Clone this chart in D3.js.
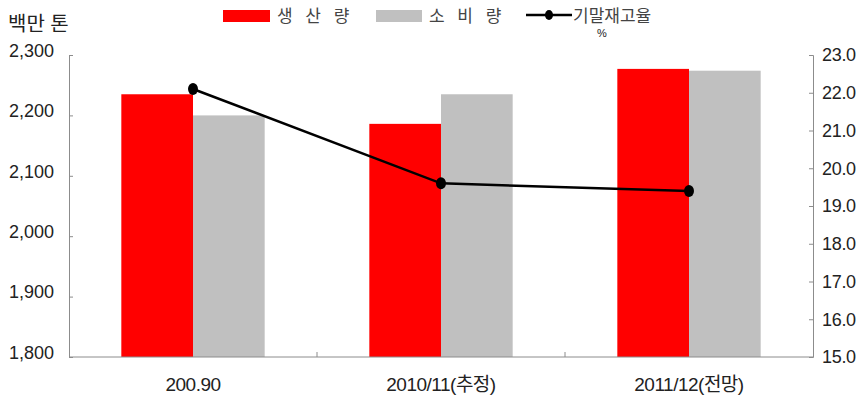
<!DOCTYPE html>
<html>
<head>
<meta charset="utf-8">
<script src="https://cdn.jsdelivr.net/npm/d3@7"></script>
<style>
  body { margin: 0; background: #fff; }
  svg { font-family: "Liberation Sans", Arial, "Noto Sans CJK KR", sans-serif; }
  .axis text { fill: #222; }
</style>
</head>
<body>
<svg id="chart" width="862" height="410"></svg>
<script>
// values
const categories = ["200.90", "2010/11(추정)", "2011/12(전망)"];
const production = [2235, 2186, 2277];
const consumption = [2200, 2235, 2274];
const stockRatio = [22.1, 19.6, 19.4];
const leftTicks = [1800, 1900, 2000, 2100, 2200, 2300];
const rightTicks = [15, 16, 17, 18, 19, 20, 21, 22, 23];

const svg = d3.select("#chart");
const margin = { top: 55, right: 49, bottom: 53, left: 69 };
const width = 862;
const height = 410;

const x = d3.scaleBand()
  .domain(categories)
  .range([margin.left, width - margin.right]);

const inner = d3.scaleBand()
  .domain(["prod", "cons"])
  .range([0, x.bandwidth()])
  .paddingInner(0)
  .paddingOuter(0.73);

const yLeft = d3.scaleLinear()
  .domain([1800, 2300])
  .range([height - margin.bottom, margin.top]);

const yRight = d3.scaleLinear()
  .domain([15, 23])
  .range([height - margin.bottom, margin.top]);

// bars
const groups = svg.append("g")
  .selectAll("g")
  .data(categories)
  .join("g")
  .attr("transform", (d) => `translate(${x(d)},0)`);

groups.append("rect")
  .attr("x", inner("prod"))
  .attr("y", (d, i) => yLeft(production[i]))
  .attr("width", inner.bandwidth())
  .attr("height", (d, i) => yLeft(1800) - yLeft(production[i]))
  .attr("fill", "#ff0000");

groups.append("rect")
  .attr("x", inner("cons"))
  .attr("y", (d, i) => yLeft(consumption[i]))
  .attr("width", inner.bandwidth())
  .attr("height", (d, i) => yLeft(1800) - yLeft(consumption[i]))
  .attr("fill", "#c0c0c0");

// axes
const axisColor = "#8c8c8c";

svg.append("g")
  .attr("class", "axis")
  .attr("transform", `translate(${margin.left},0)`)
  .call(d3.axisRight(yLeft).tickValues(leftTicks).tickSize(4).tickFormat(""))
  .call((g) => g.selectAll("line, path").attr("stroke", axisColor));

svg.append("g")
  .attr("class", "axis")
  .selectAll("text")
  .data(leftTicks)
  .join("text")
  .attr("x", 54)
  .attr("y", (d) => yLeft(d))
  .attr("dy", "0.1em")
  .attr("text-anchor", "end")
  .attr("font-size", 18)
  .text((d) => d3.format(",")(d));

svg.append("g")
  .attr("class", "axis")
  .attr("transform", `translate(${width - margin.right},0)`)
  .call(d3.axisLeft(yRight).tickValues(rightTicks).tickSize(4).tickFormat(""))
  .call((g) => g.selectAll("line, path").attr("stroke", axisColor));

svg.append("g")
  .attr("class", "axis")
  .selectAll("text")
  .data(rightTicks)
  .join("text")
  .attr("x", width - margin.right + 9)
  .attr("y", (d) => yRight(d))
  .attr("dy", "0.35em")
  .attr("font-size", 18)
  .attr("letter-spacing", "-0.3")
  .text((d) => d3.format(".1f")(d));

svg.append("line")
  .attr("x1", margin.left)
  .attr("x2", width - margin.right)
  .attr("y1", height - margin.bottom)
  .attr("y2", height - margin.bottom)
  .attr("stroke", axisColor);

svg.append("g")
  .selectAll("line")
  .data(categories.slice(1))
  .join("line")
  .attr("x1", (d) => x(d))
  .attr("x2", (d) => x(d))
  .attr("y1", height - margin.bottom)
  .attr("y2", height - margin.bottom - 5)
  .attr("stroke", axisColor);

svg.append("g")
  .attr("class", "axis")
  .selectAll("text")
  .data(categories)
  .join("text")
  .attr("x", (d) => x(d) + x.bandwidth() / 2)
  .attr("y", 391)
  .attr("text-anchor", "middle")
  .attr("font-size", 19)
  .attr("letter-spacing", "-0.5")
  .text((d) => d);

// line series
const line = d3.line()
  .x((d, i) => x(categories[i]) + x.bandwidth() / 2)
  .y((d) => yRight(d));

svg.append("path")
  .datum(stockRatio)
  .attr("d", line)
  .attr("fill", "none")
  .attr("stroke", "#000")
  .attr("stroke-width", 2.5);

svg.append("g")
  .selectAll("ellipse")
  .data(stockRatio)
  .join("ellipse")
  .attr("cx", (d, i) => x(categories[i]) + x.bandwidth() / 2)
  .attr("cy", (d) => yRight(d))
  .attr("rx", 5)
  .attr("ry", 6)
  .attr("fill", "#000");

// unit labels
svg.append("text")
  .attr("x", 8)
  .attr("y", 31)
  .attr("font-size", 20)
  .attr("fill", "#222")
  .text("백만 톤");

svg.append("text")
  .attr("x", 597)
  .attr("y", 37)
  .attr("font-size", 11)
  .attr("fill", "#222")
  .text("%");

// legend
const legend = svg.append("g").attr("font-size", 17).attr("fill", "#444");

legend.append("rect").attr("x", 223).attr("y", 10).attr("width", 47).attr("height", 12).attr("fill", "#ff0000");
legend.append("text").attr("x", 277).attr("y", 22).attr("letter-spacing", "4").text("생 산 량");

legend.append("rect").attr("x", 376).attr("y", 10).attr("width", 46).attr("height", 12).attr("fill", "#c0c0c0");
legend.append("text").attr("x", 429).attr("y", 22).attr("letter-spacing", "4").text("소 비 량");

legend.append("line").attr("x1", 526).attr("x2", 572).attr("y1", 15).attr("y2", 15).attr("stroke", "#000").attr("stroke-width", 2.5);
legend.append("ellipse").attr("cx", 549).attr("cy", 15).attr("rx", 4).attr("ry", 5).attr("fill", "#000");
legend.append("text").attr("x", 573).attr("y", 22).text("기말재고율");
</script>
</body>
</html>
